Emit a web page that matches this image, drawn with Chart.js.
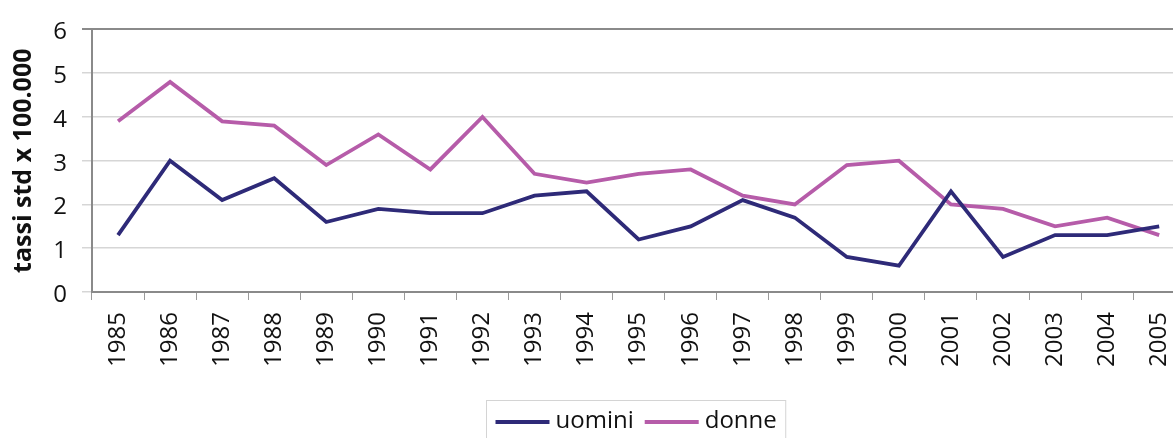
<!DOCTYPE html>
<html>
<head>
<meta charset="utf-8">
<script src="https://cdn.jsdelivr.net/npm/chart.js@4/dist/chart.umd.min.js"></script>
<style>
  html, body { margin: 0; padding: 0; background: #fff; overflow: hidden; width: 1173px; height: 438px; }
  #wrap { position: absolute; left: 0; top: 0; width: 1200px; height: 438px; }
</style>
</head>
<body>
<div id="wrap"><canvas id="c" width="1200" height="438"></canvas></div>
<script>
const years = ['1985','1986','1987','1988','1989','1990','1991','1992','1993','1994','1995','1996','1997','1998','1999','2000','2001','2002','2003','2004','2005'];
const uomini = [1.3, 3.0, 2.1, 2.6, 1.6, 1.9, 1.8, 1.8, 2.2, 2.3, 1.2, 1.5, 2.1, 1.7, 0.8, 0.6, 2.3, 0.8, 1.3, 1.3, 1.5];
const donne  = [3.9, 4.8, 3.9, 3.8, 2.9, 3.6, 2.8, 4.0, 2.7, 2.5, 2.7, 2.8, 2.2, 2.0, 2.9, 3.0, 2.0, 1.9, 1.5, 1.7, 1.3];
const seriesNames = ['uomini', 'donne'];
const yTitle = 'tassi std x 100.000';
const yMin = 0, yMax = 6, yStep = 1;

const NAVY = '#2e2a78';
const PINK = '#b65ca9';
const FONT = '"Open Sans", "DejaVu Sans", sans-serif';

const boxLegend = {
  id: 'boxLegend',
  afterDraw(chart) {
    const ctx = chart.ctx;
    ctx.save();
    ctx.font = '24px ' + FONT;
    const lineLen = 54, gap = 6, itemGap = 11, padX = 9;
    const items = chart.data.datasets.map(d => ({ text: d.label, color: d.borderColor, w: ctx.measureText(d.label).width }));
    let total = 0;
    items.forEach((it, i) => { total += lineLen + gap + it.w + (i < items.length - 1 ? itemGap : 0); });
    const cx = 636;
    const boxW = total + 2 * padX;
    const boxL = Math.round(cx - boxW / 2) + 0.5;
    ctx.strokeStyle = '#d4d4d4';
    ctx.lineWidth = 1;
    ctx.strokeRect(boxL, 400.5, boxW, 60);
    let x = boxL + padX;
    items.forEach(it => {
      ctx.strokeStyle = it.color;
      ctx.lineWidth = 4;
      ctx.beginPath();
      ctx.moveTo(x, 422);
      ctx.lineTo(x + lineLen, 422);
      ctx.stroke();
      x += lineLen + gap;
      ctx.fillStyle = '#111';
      ctx.textBaseline = 'alphabetic';
      ctx.textAlign = 'left';
      ctx.fillText(it.text, x, 428);
      x += it.w + itemGap;
    });
    ctx.restore();
  }
};

new Chart(document.getElementById('c'), {
  type: 'line',
  data: {
    labels: years,
    datasets: [
      { label: seriesNames[0], data: uomini, borderColor: NAVY, backgroundColor: NAVY, borderWidth: 3.8, pointRadius: 0, tension: 0, borderJoinStyle: 'miter' },
      { label: seriesNames[1], data: donne, borderColor: PINK, backgroundColor: PINK, borderWidth: 3.8, pointRadius: 0, tension: 0, borderJoinStyle: 'miter' }
    ]
  },
  options: {
    responsive: false,
    animation: false,
    layout: { padding: { top: 22, left: 0, right: 0, bottom: 0 } },
    plugins: { legend: { display: false }, tooltip: { enabled: false } },
    scales: {
      x: {
        offset: true,
        grid: { display: true, drawOnChartArea: false, drawTicks: true, tickLength: 8, color: '#9a9a9a', lineWidth: 1, offset: true },
        border: { display: true, color: '#8a8a8a', width: 2 },
        ticks: { minRotation: 90, maxRotation: 90, autoSkip: false, padding: 12, color: '#111', font: { family: FONT, size: 24 } },
        afterFit(scale) { scale.height = 146; }
      },
      y: {
        min: yMin, max: yMax,
        grid: { color: (c) => (c.tick && c.tick.value === yMax) ? '#8a8a8a' : '#d6d6d6', lineWidth: (c) => (c.tick && c.tick.value === yMax) ? 2 : 1.5, tickLength: 10, drawTicks: true },
        border: { display: true, color: '#8a8a8a', width: 2 },
        ticks: { stepSize: yStep, padding: 15, labelOffset: 3, color: '#111', font: { family: FONT, size: 24 } },
        title: { display: true, text: yTitle, color: '#111', font: { family: FONT, size: 25, weight: 'bold' }, padding: { top: 9, bottom: 0 } },
        afterFit(scale) { scale.width = 92; }
      }
    }
  },
  plugins: [boxLegend]
});
</script>
</body>
</html>
